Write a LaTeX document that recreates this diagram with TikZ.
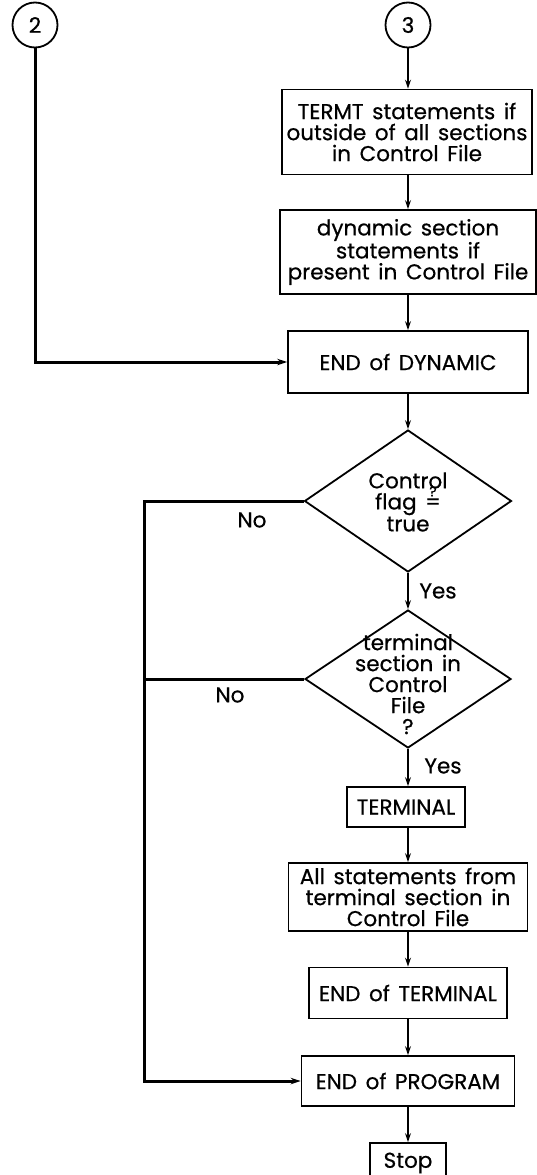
\documentclass[tikz,border=0pt]{standalone}
\usepackage{fontspec}
\setmainfont{Poppins}[WordSpace=1.5,FakeBold=0.6]
\usetikzlibrary{arrows.meta,shapes.geometric}
\tikzset{proc/.style={draw,line width=1.8pt,align=center,inner sep=0pt},
  conn/.style={circle,draw,line width=1.8pt,minimum size=45pt,inner sep=0pt},
  dec/.style={diamond,draw,line width=1.8pt,inner sep=0pt},
  dectext/.style={align=center,inner sep=0pt},
  flow/.style={line width=2.2pt,-{Stealth[length=9pt,width=6pt]}},
  back/.style={line width=3pt},
  backarr/.style={back,-{Stealth[length=10pt,width=6.5pt]}}}
\newcommand{\qeq}{$\stackrel{\mbox{\fontsize{14}{14}\selectfont ?}}{\mbox{=}}$}

\begin{document}
\begin{tikzpicture}[x=1pt,y=-1pt,font=\fontsize{21.5}{21}\selectfont]
\useasboundingbox (0,0) rectangle (537,1175);
\node[conn] (c2) at (35,25) {2};
\node[conn] (c3) at (408,25) {3};
\node[proc,minimum width=250pt,minimum height=85pt] (termt) at (407,132) {TERMT statements if\\outside of all sections\\in Control File};
\node[proc,minimum width=256pt,minimum height=84pt] (dynsec) at (408,252) {dynamic section\\statements if\\present in Control File};
\node[proc,minimum width=240pt,minimum height=62pt] (enddyn) at (408,362) {END of DYNAMIC};
\node[dec,minimum width=207pt,minimum height=142pt] (flag) at (408,501) {};
\node[dectext] (flagtxt) at (408,502) {Control\\[-4pt]flag \qeq\\[1pt]true};
\node[dec,minimum width=206pt,minimum height=138pt] (insec) at (408,679) {};
\node[dectext] (insectxt) at (408,684) {terminal\\section in\\Control\\File\\?};
\node[proc,minimum width=118pt,minimum height=40pt] (term) at (406,807) {TERMINAL};
\node[proc,minimum width=239pt,minimum height=68pt] (allst) at (408,897) {All statements from\\terminal section in\\Control File};
\node[proc,minimum width=198pt,minimum height=51pt] (endterm) at (408,993) {END of TERMINAL};
\node[proc,minimum width=213pt,minimum height=50pt] (endprog) at (408,1081) {END of PROGRAM};
\node[proc,minimum width=76pt,minimum height=40pt] (stop) at (408,1163) {Stop};
\node (no1) at (252,520) {No};
\node (yes1) at (438,591) {Yes};
\node (no2) at (230,695) {No};
\node (yes2) at (443,766) {Yes};
\coordinate (rail) at (144,1081);
\draw[flow] (c3) -- (c3 |- termt.north);
\draw[flow] (termt.south -| c3) -- (c3 |- dynsec.north);
\draw[flow] (dynsec) -- (enddyn);
\draw[flow] (enddyn) -- (flag);
\draw[flow] (flag) -- (insec);
\draw[flow] (insec) -- (insec |- term.north);
\draw[flow] (term.south -| insec) -- (allst);
\draw[flow] (allst) -- (endterm);
\draw[flow] (endterm) -- (endprog);
\draw[flow] (endprog) -- (stop);
\draw[backarr] (c2) |- (enddyn);
\draw[backarr] (flag.west) -| (rail) -- (endprog);
\draw[back] (insec.west) -- (insec.west -| rail);
\end{tikzpicture}
\end{document}
